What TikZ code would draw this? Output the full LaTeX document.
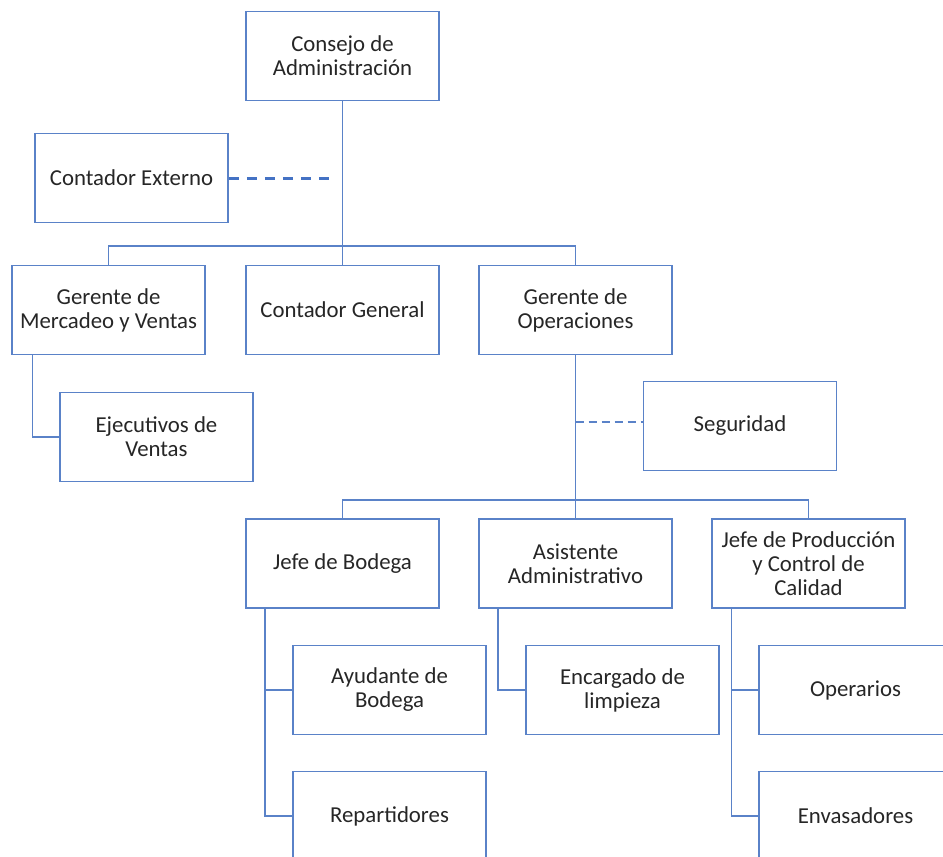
\documentclass[tikz,border=0pt]{standalone}
\usepackage{fontspec}
\setmainfont{Carlito}
\definecolor{accent}{HTML}{4472C4}
\definecolor{frame}{HTML}{5A82C8}
\definecolor{ink}{HTML}{262626}

\begin{document}
\begin{tikzpicture}[x=1pt,y=-1pt,
  unit/.style={draw=frame, line width=1.5pt, fill=white,
    minimum width=193pt, minimum height=89pt, inner sep=0pt,
    align=center, text=ink, font=\fontsize{22.8}{24}\selectfont},
  link/.style={draw=frame, line width=1.5pt},
  staffbold/.style={draw=accent, line width=3pt, dash pattern=on 10pt off 8pt},
  stafflight/.style={draw=frame, line width=1.6pt, dash pattern=on 8pt off 5pt}]

\useasboundingbox (0,0) rectangle (943,857);
\clip (0,0) rectangle (943,857);

% boxes
\node[unit] (consejo)      at (342.5,56)  {Consejo de\\Administración};
\node[unit] (externo)      at (131.5,178) {Contador Externo};
\node[unit] (mercadeo)     at (108.5,310) {Gerente de\\Mercadeo y Ventas};
\node[unit] (general)      at (342.5,310) {Contador General};
\node[unit] (operaciones)  at (575.5,310) {Gerente de\\Operaciones};
\node[unit] (ejecutivos)   at (156.5,437) {Ejecutivos de\\Ventas};
\node[unit] (seguridad)    at (740,426)   {Seguridad};
\node[unit] (bodega)       at (342.5,563.5) {Jefe de Bodega};
\node[unit] (asistente)    at (575.5,563.5) {Asistente\\Administrativo};
\node[unit] (produccion)   at (808.5,563.5) {Jefe de Producción\\y Control de\\Calidad};
\node[unit] (ayudante)     at (389.5,690) {Ayudante de\\Bodega};
\node[unit] (encargado)    at (622.5,690) {Encargado de\\limpieza};
\node[unit] (operarios)    at (855.5,690) {Operarios};
\node[unit] (repartidores) at (389.5,816) {Repartidores};
\node[unit] (envasadores)  at (855.5,816) {Envasadores};

% hubs of the horizontal buses and ends of the staff lines
\coordinate (hubA) at (342.5,246);
\coordinate (hubB) at (575.5,500);
\coordinate (tapA) at (335,177);
\coordinate (tapB) at (575.5,422);

% top level
\draw[link] (consejo.south) -- (general.north);
\draw[link] (mercadeo.north) |- (hubA) -| (operaciones.north);
\draw[staffbold] (externo.east) -- (externo.east -| tapA);

% marketing branch
\draw[link] ([xshift=21pt]mercadeo.south west) |- (ejecutivos.west);

% operations branch
\draw[link] (operaciones.south) -- (asistente.north);
\draw[stafflight] (tapB) -- (tapB -| seguridad.west);
\draw[link] (bodega.north) |- (hubB) -| (produccion.north);

% third level
\draw[link] ([xshift=19.5pt]bodega.south west) |- (repartidores.west);
\draw[link] ([xshift=19.5pt]bodega.south west |- ayudante.west) -- (ayudante.west);
\draw[link] ([xshift=19.5pt]asistente.south west) |- (encargado.west);
\draw[link] ([xshift=20pt]produccion.south west) |- (envasadores.west);
\draw[link] ([xshift=20pt]produccion.south west |- operarios.west) -- (operarios.west);
\end{tikzpicture}
\end{document}
